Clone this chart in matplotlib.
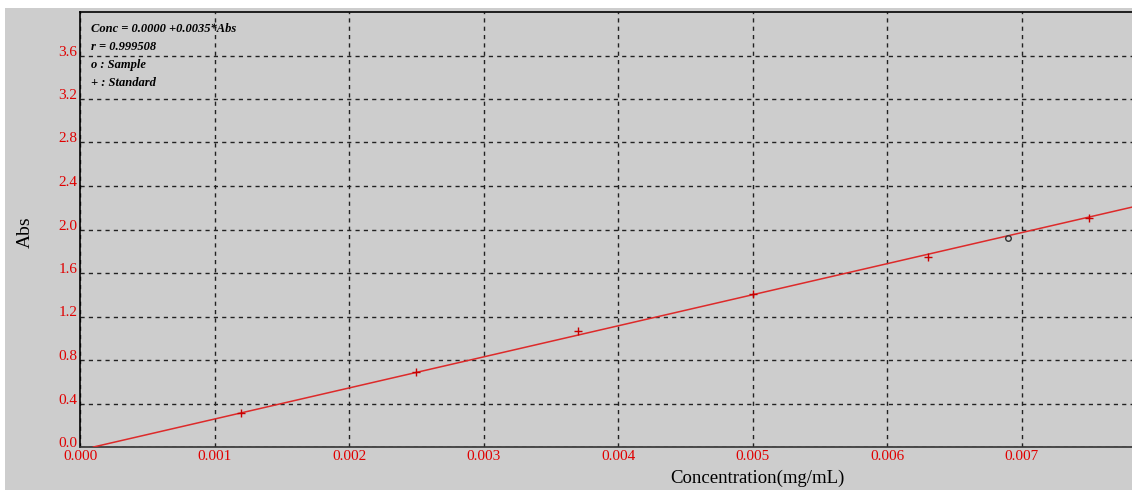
"""Calibration curve: Abs vs concentration (standards + one sample)."""
import matplotlib
matplotlib.use("Agg")
import matplotlib.pyplot as plt
from matplotlib.patches import Rectangle
import numpy as np

# ── Data ─────────────────────────────────────────────────────────────────
std_conc = [0.0012, 0.0025, 0.0037, 0.0050, 0.0063, 0.0075]
std_abs = [0.31, 0.69, 1.07, 1.41, 1.75, 2.11]
sample_conc = [0.0069]
sample_abs = [1.92]

# Conc = c0 + k * Abs  (fit line as drawn)
fit_c0 = 0.0001
fit_k = 0.0035

legend_lines = [
    "Conc = 0.0000 +0.0035*Abs",
    "r = 0.999508",
    "o : Sample",
    "+ : Standard",
]

x_ticks = np.arange(0, 0.0071, 0.001)
y_ticks = np.arange(0, 3.61, 0.4)

BG = "#cdcdcd"
RED = "#e00000"
SERIF = ["Liberation Serif", "DejaVu Serif"]

W, H = 1132, 490
fig = plt.figure(figsize=(W / 100, H / 100), dpi=100, facecolor="white")
fig.patches.append(Rectangle((5 / W, 0), 1, 1 - 8 / H, transform=fig.transFigure,
                             facecolor=BG, edgecolor="none", zorder=-10))

ax = fig.add_axes([80 / W, 1 - 447 / H, 1 - 80 / W, (447 - 12) / H])
ax.set_facecolor(BG)
ax.set_xlim(0, 0.00782)
ax.set_ylim(0, 4.0)

# grid
ax.set_xticks(x_ticks)
ax.set_yticks(y_ticks)
ax.grid(True, color="#222222", linestyle=(0, (3, 3)), linewidth=1.0)
ax.set_axisbelow(True)

# fit line
xs = np.array([fit_c0, 0.00782])
ax.plot(xs, (xs - fit_c0) / fit_k, color="#dd2a2a", linewidth=1.1, zorder=3)

# points
ax.plot(std_conc, std_abs, linestyle="none", marker="+", markersize=6,
        markeredgewidth=1.0, color="#c80000", zorder=4)
ax.plot(sample_conc, sample_abs, linestyle="none", marker="o", markersize=4,
        markerfacecolor="none", markeredgewidth=1.0, markeredgecolor="#333333", zorder=4)

# spines
ax.spines["right"].set_visible(False)
ax.spines["left"].set_color("black")
ax.spines["top"].set_color("black")
ax.spines["bottom"].set_color("#333333")
for s in ("left", "top", "bottom"):
    ax.spines[s].set_linewidth(1.2)

ax.tick_params(length=0, pad=2, labelcolor=RED, labelsize=11)
ax.set_xticklabels([f"{v:.3f}" for v in x_ticks], family=SERIF)
ax.set_yticklabels([f"{v:.1f}" for v in y_ticks], family=SERIF)
for lab in ax.get_yticklabels():
    lab.set_verticalalignment("baseline")

ax.set_xlabel("Concentration(mg/mL)", family=SERIF, fontsize=13.5)
ax.xaxis.set_label_coords(677 / (W - 80), -(478 - 447) / (447 - 12))
ax.xaxis.label.set_verticalalignment("center")
ax.set_ylabel("Abs", family=SERIF, fontsize=14)
ax.yaxis.set_label_coords(-(80 - 25) / (W - 80), (447 - 232) / (447 - 12))
ax.yaxis.label.set_verticalalignment("center")

for i, line in enumerate(legend_lines):
    fig.text(91 / W, 1 - (29 + i * 18) / H, line, family=SERIF, fontsize=9,
             fontweight="bold", fontstyle="italic", va="center", ha="left")

fig.savefig("out.png", dpi=100, facecolor="white")
